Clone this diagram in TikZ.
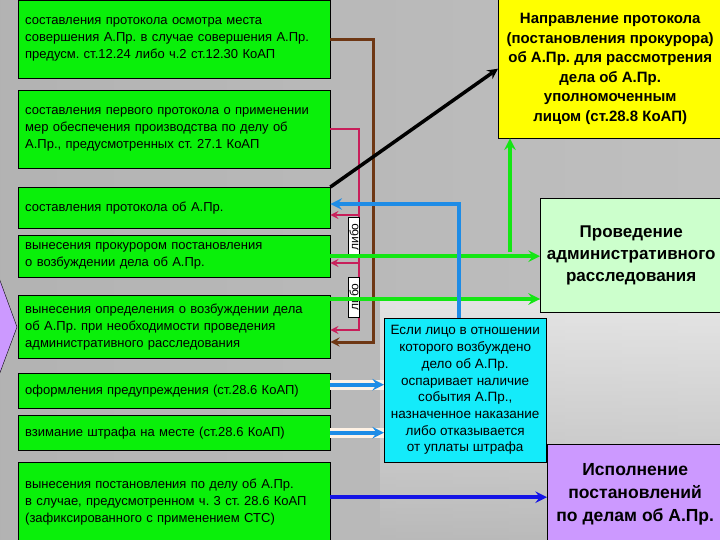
\documentclass[tikz,border=0pt]{standalone}
\usepackage{fontspec}
\setmainfont{Liberation Sans}
\frenchspacing
\definecolor{boxgreen}{RGB}{10,240,10}
\definecolor{boxyellow}{RGB}{255,255,0}
\definecolor{boxmint}{RGB}{204,255,204}
\definecolor{boxcyan}{RGB}{20,235,250}
\definecolor{boxlilac}{RGB}{204,153,255}
\definecolor{lnbrown}{RGB}{110,55,20}
\definecolor{lnmagenta}{RGB}{200,30,90}
\definecolor{lnsky}{RGB}{30,140,230}
\definecolor{lnblue}{RGB}{20,20,230}
\definecolor{lngreen}{RGB}{20,230,20}
\begin{document}
\begin{tikzpicture}[x=1pt,y=-1pt,>=stealth]
  \tikzset{gbox/.style={draw, fill=boxgreen, anchor=north west, text width=298pt,
      inner xsep=7pt, inner ysep=0pt, minimum height=#1, align=left,
      font=\fontsize{13}{17}\selectfont},
    gbox/.default=78,
    bigbox/.style={draw, anchor=north west, inner sep=0pt, align=center},
    libo/.style={draw, fill=white, rotate=90, inner sep=1pt, minimum width=40pt,
      minimum height=11pt, font=\fontsize{12}{12}\selectfont},
    ln/.style={line width=#1}}
  \useasboundingbox (0,0) rectangle (720,540);
  \clip (0,0) rectangle (720,540);
  % background
  \shade[left color=gray!60, middle color=white, right color=gray!50] (0,0) rectangle (720,540);
  \shade[top color=white, bottom color=gray!55, opacity=0.6] (380,300) rectangle (720,540);
  \filldraw[fill=boxlilac] (-2,275) -- (17,327) -- (-2,378) -- cycle;
  % left column
  \node[gbox=78] (b1) at (18,0) {составления протокола осмотра места\\совершения А.Пр. в случае совершения А.Пр.\\предусм. ст.12.24 либо ч.2 ст.12.30 КоАП};
  \node[gbox=78] (b2) at (18,90) {составления первого протокола о применении\\мер обеспечения производства по делу об\\А.Пр., предусмотренных ст. 27.1 КоАП};
  \node[gbox=41] (b3) at (18,187) {составления протокола об А.Пр.};
  \node[gbox=42] (b4) at (18,235) {вынесения прокурором постановления\\о возбуждении дела об А.Пр.};
  \node[gbox=63] (b5) at (18,295) {вынесения определения о возбуждении дела\\об А.Пр. при необходимости проведения\\административного расследования};
  \node[gbox=35] (b6) at (18,373) {оформления предупреждения (ст.28.6 КоАП)};
  \node[gbox=35] (b7) at (18,415) {взимание штрафа на месте (ст.28.6 КоАП)};
  \node[gbox=80] (b8) at (18,462) {вынесения постановления по делу об А.Пр.\\в случае, предусмотренном ч. 3 ст. 28.6 КоАП\\(зафиксированного с применением СТС)};
  % right column
  \node[bigbox, fill=boxyellow, minimum width=224pt, minimum height=139pt,
        font=\bfseries\fontsize{15}{19.5}\selectfont] (yl) at (498,-1)
        {Направление протокола\\(постановления прокурора)\\об А.Пр. для рассмотрения\\дела об А.Пр.\\уполномоченным\\лицом (ст.28.8 КоАП)};
  \node[bigbox, fill=boxmint, minimum width=182pt, minimum height=114pt,
        font=\bfseries\fontsize{17}{22}\selectfont] (pr) at (540,198)
        {Проведение\\административного\\расследования};
  \node[bigbox, fill=boxcyan, minimum width=162pt, minimum height=144pt,
        font=\fontsize{13.5}{16.7}\selectfont] (cy) at (384,318)
        {Если лицо в отношении\\которого возбуждено\\дело об А.Пр.\\оспаривает наличие\\события А.Пр.,\\назначенное наказание\\либо отказывается\\от уплаты штрафа};
  \node[bigbox, fill=boxlilac, minimum width=176pt, minimum height=100pt,
        font=\bfseries\fontsize{17.5}{23}\selectfont] (ex) at (547,444)
        {Исполнение\\постановлений\\по делам об А.Пр.};
  % bends
  \coordinate (brn) at (373,342);
  \coordinate (mg) at (359,330);
  \coordinate (mg3) at (359,215);
  \coordinate (mg4) at (359,263);
  \coordinate (bl) at (459,204);
  \coordinate (g2) at (330,299);
  \coordinate (g3) at (510,252);
  % connectors
  \draw[lnbrown, ln=3, ->] (b1.east) -| (brn) -- (brn -| b5.east);
  \draw[lnmagenta, ln=2.5, ->] (b2.east) -| (mg) -- (mg -| b5.east);
  \draw[lnmagenta, ln=2.5, ->] (mg3) -- (mg3 -| b3.east);
  \draw[lnmagenta, ln=2.5, ->] (mg4) -- (mg4 -| b4.east);
  \node[libo] (l1) at (354,237) {либо};
  \node[libo] (l2) at (354,297) {либо};
  \draw[lngreen, ln=4, ->] (b4.east) -- (b4.east -| pr.west);
  \draw[lngreen, ln=4, ->] (g2) -- (g2 -| pr.west);
  \draw[lngreen, ln=4, ->] (g3) -- (g3 |- yl.south);
  \draw[lnsky, ln=4, ->] (bl |- cy.north) -- (bl) -- (bl -| b3.east);
  \draw[black, ln=3.5, ->] (b3.north east) -- (yl.west);
  \draw[lnsky, ln=4, ->, preaction={draw=orange!10, line width=10pt, -}]
    ([yshift=6pt]b6.east) -- ([yshift=6pt]b6.east -| cy.west);
  \draw[lnsky, ln=4, ->, preaction={draw=orange!10, line width=10pt, -}]
    (b7.east) -- (b7.east -| cy.west);
  \draw[lnblue, ln=4, ->] ([yshift=5pt]b8.east) -- ([yshift=5pt]b8.east -| ex.west);
\end{tikzpicture}
\end{document}
